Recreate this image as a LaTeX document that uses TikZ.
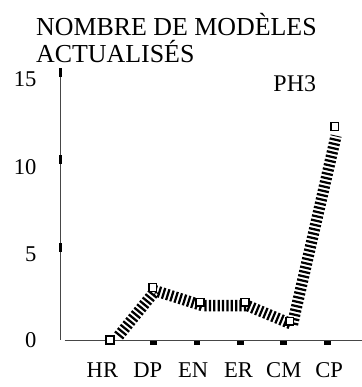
\documentclass[tikz,border=0pt]{standalone}
\usepackage{fontspec}
\setmainfont{Liberation Serif}
\usepackage{tikz}
\usetikzlibrary{calc}
\usetikzlibrary{positioning}
\definecolor{axisgray}{RGB}{70, 70, 70}

\tikzset{
    ytickmark/.style = {fill=black, inner sep=0pt, minimum width=2.2pt, minimum height=6.5pt},
    xtickmark/.style = {fill=black, inner sep=0pt, minimum width=5pt, minimum height=2.8pt, anchor=north},
    datamark/.style  = {draw=black, fill=white, line width=1.2pt, inner sep=0pt, minimum size=5.8pt},
    band/.style      = {black, line width=8.5pt, dash pattern=on 1.7pt off 1.6pt},
    labeltext/.style = {font=\fontsize{17}{20}\selectfont, inner sep=0pt}
}

\begin{document}
\begin{tikzpicture}[x=1cm, y=0.463cm]
            \useasboundingbox (-1.61,-2.69) rectangle (7.96,19.43);
            % Title
            \node[anchor=base west, align=left, inner sep=0pt, font=\fontsize{19.5}{21}\selectfont]
                 (title) at (-0.66, 15.83) {NOMBRE DE MODÈLES\\ACTUALISÉS};
            \node[labeltext, font=\fontsize{18}{20}\selectfont] (serie) at (6.19, 14.63) {PH3};
            % Axes
            \draw[axisgray, line width=0.6pt]                                 ( 0.00, 0.00) -- ( 0.00,15.45);
            \draw[axisgray, line width=0.6pt]                                 ( 0.10, 0.00) -- ( 7.96, 0.00);
            \node[labeltext, anchor=east] (y0) at (-0.64, 0.00) {0};
            \foreach \v in {5,10,15} {
                \node[ytickmark] (yt\v) at (0.00, \v+0.30) {};
                \node[labeltext, anchor=east] (y\v) at (-0.64, \v-0.10) {\v};
            }
            % Categories
            \foreach \c [count=\i from 0] in {HR,DP,EN,ER,CM,CP} {
                \node[xtickmark] (xt\c) at (1.30+1.15*\i, -0.05) {};
                \node[labeltext] (x\c) at (1.10+1.200*\i, -1.71) {\c};
            }
            % Data points
            \coordinate (hr) at (1.30, 0.00);
            \coordinate (dp) at (2.43, 3.00);
            \coordinate (en) at (3.68, 2.15);
            \coordinate (er) at (4.87, 2.15);
            \coordinate (cm) at (6.06, 1.07);
            \coordinate (cp) at (7.25,12.20);
            \draw[band, transform canvas={xshift=2pt, yshift=-2.5pt}]
                 ($(hr)!0.14!(dp)$) -- (dp) -- (en) -- (er) -- (cm) -- ($(cp)!0.03!(cm)$);
            \foreach \p in {hr,dp,en,er,cm,cp}
                \node[datamark] (m\p) at (\p) {};
        \end{tikzpicture}
\end{document}
